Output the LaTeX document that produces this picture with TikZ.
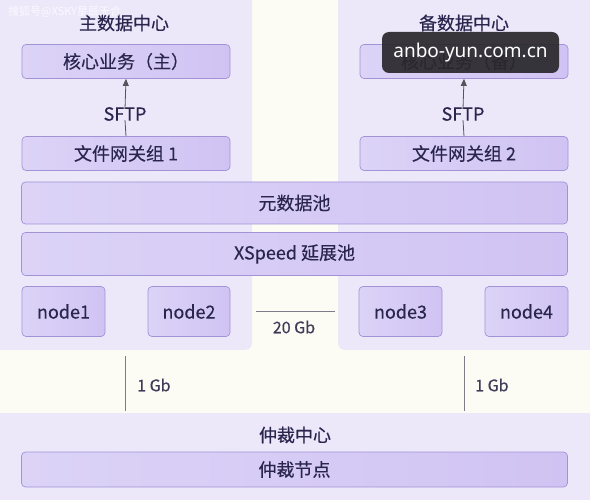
\documentclass[tikz,border=0pt]{standalone}
\usepackage{fontspec}
\setmainfont{Noto Sans CJK SC}[FakeBold=0.35]
\newfontfamily\wmfont{Noto Sans}
\newfontfamily\lightcjk{Noto Sans CJK SC}
\usetikzlibrary{arrows.meta}
\definecolor{bgcream}{HTML}{FDFCF4}
\definecolor{panelc}{HTML}{ECE8FA}
\definecolor{boxc}{HTML}{D0C3F3}
\definecolor{boxl}{HTML}{DCD3F7}
\definecolor{boxd}{HTML}{A393D6}
\definecolor{txtc}{HTML}{29254D}
\definecolor{linec}{HTML}{7E7C88}
\definecolor{arrc}{HTML}{55535C}
\definecolor{overlayc}{HTML}{2B292D}
\tikzset{
  panel/.style={fill=panelc, draw=none, rounded corners=7pt},
  pbox/.style={draw=boxd, line width=0.7pt, rounded corners=4pt, left color=boxl, right color=boxc, inner sep=0pt, text=txtc, font=\fontsize{18}{20}\selectfont},
  ptitle/.style={text=txtc, font=\fontsize{18}{20}\selectfont, inner sep=0pt},
  lbl/.style={text=txtc, font=\fontsize{18}{20}\selectfont, inner sep=0pt},
  gblbl/.style={text=txtc!75!gray, font=\fontsize{16}{18}\selectfont, inner sep=0pt},
  link/.style={draw=linec, line width=0.7pt},
  arr/.style={draw=arrc, line width=0.8pt}
}
\begin{document}
\begin{tikzpicture}[x=1pt,y=-1pt]
\useasboundingbox (0,0) rectangle (590,500);
\fill[bgcream] (0,0) rectangle (590,500);
% panels
\fill[panel] (-10,-10) rectangle (252,350);
\fill[panel] (338,-10) rectangle (600,350);
\fill[panel] (-10,413) rectangle (600,510);
% titles
\node[ptitle] (tmain) at (124,23) {主数据中心};
\node[ptitle] (tbak) at (464,23) {备数据中心};
% left column
\node[pbox, minimum width=208pt, minimum height=34pt] (coreA) at (126,61.5) {核心业务（主）};
\node[pbox, minimum width=208pt, minimum height=34pt] (gw1) at (126,153.5) {文件网关组 1};
\node[lbl] (sftpA) at (125,114) {SFTP};
\draw[arr] (gw1.north) -- ([yshift=1pt]sftpA.south);
\draw[arr, -{Triangle[length=7pt,width=6pt]}] ([yshift=-2pt]sftpA.north) -- (coreA.south);
% right column
\node[pbox, minimum width=208pt, minimum height=34pt] (coreB) at (464,61.5) {核心业务（备）};
\node[pbox, minimum width=208pt, minimum height=34pt] (gw2) at (464,153.5) {文件网关组 2};
\node[lbl] (sftpB) at (463,114) {SFTP};
\draw[arr] (gw2.north) -- ([yshift=1pt]sftpB.south);
\draw[arr, -{Triangle[length=7pt,width=6pt]}] ([yshift=-2pt]sftpB.north) -- (coreB.south);
% pools
\node[pbox, minimum width=546pt, minimum height=42pt] (meta) at (294.5,203) {元数据池};
\node[pbox, minimum width=546pt, minimum height=43pt] (xs) at (294.5,254) {XSpeed 延展池};
% nodes
\node[pbox, minimum width=83pt, minimum height=50pt] (n1) at (63.5,311.5) {node1};
\node[pbox, minimum width=82pt, minimum height=50pt] (n2) at (189,311.5) {node2};
\node[pbox, minimum width=83pt, minimum height=50pt] (n3) at (400.5,311.5) {node3};
\node[pbox, minimum width=83pt, minimum height=50pt] (n4) at (526.5,311.5) {node4};
\coordinate (l20a) at (256,311);
\coordinate (l20b) at (335,311);
\draw[link] (l20a) -- (l20b);
\node[gblbl] (g20) at (294,327) {20 Gb};
% 1 Gb links
\coordinate (v1a) at (125,356);
\coordinate (v1b) at (125,411);
\coordinate (v2a) at (464,356);
\coordinate (v2b) at (464,411);
\draw[link] (v1a) -- (v1b);
\draw[link] (v2a) -- (v2b);
\node[gblbl, anchor=west] (g1a) at (137,385) {1 Gb};
\node[gblbl, anchor=west] (g1b) at (475,385) {1 Gb};
% arbitration
\node[ptitle] (tarb) at (295,435) {仲裁中心};
\node[pbox, minimum width=546pt, minimum height=35pt] (arb) at (294.5,469.5) {仲裁节点};
% watermarks
\node[text=white, opacity=0.75, font=\lightcjk\fontsize{11}{12}\selectfont, anchor=west, inner sep=0pt] (wm) at (8,12) {搜狐号@XSKY星辰天合};
\node[fill=overlayc, fill opacity=0.93, text opacity=1, text=white, rounded corners=7pt, minimum width=177pt, minimum height=41pt, inner sep=0pt, font=\wmfont\fontsize{19}{21}\selectfont] (ov) at (470.5,52.5) {anbo-yun.com.cn};
\end{tikzpicture}
\end{document}
